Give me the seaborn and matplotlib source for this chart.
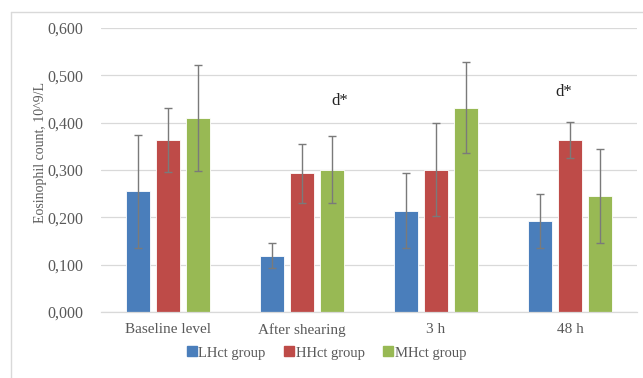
import matplotlib
matplotlib.use("Agg")
import matplotlib.pyplot as plt
from matplotlib.lines import Line2D
import seaborn as sns
import pandas as pd
import numpy as np

# Time points and groups
timepoints = ["Baseline level", "After shearing", "3 h", "48 h"]
groups = ["LHct group", "HHct group", "MHct group"]

# Mean eosinophil counts (10^9/L) per group at each time point
lhct_mean = [0.255, 0.119, 0.214, 0.192]
hhct_mean = [0.363, 0.293, 0.301, 0.363]
mhct_mean = [0.409, 0.301, 0.432, 0.245]

# Error bar half-widths
lhct_err = [0.120, 0.027, 0.079, 0.057]
hhct_err = [0.067, 0.062, 0.098, 0.038]
mhct_err = [0.112, 0.070, 0.097, 0.100]

# Significance marks above groups
sig_labels = ["", "d*", "", "d*"]

y_ticks = [0.0, 0.1, 0.2, 0.3, 0.4, 0.5, 0.6]
y_tick_labels = ["0,000", "0,100", "0,200", "0,300", "0,400", "0,500", "0,600"]

colors = ["#4A7EBB", "#BE4B48", "#98B954"]
text_color = "#595959"

means = [lhct_mean, hhct_mean, mhct_mean]
errs = [lhct_err, hhct_err, mhct_err]

df = pd.DataFrame({
    "timepoint": np.repeat([timepoints], 3, axis=0).ravel(),
    "group": np.repeat(groups, len(timepoints)),
    "value": np.concatenate(means),
    "err": np.concatenate(errs),
})

sns.set_style("white")
plt.rcParams["font.family"] = ["Liberation Serif", "DejaVu Serif"]

fig = plt.figure(figsize=(6.43, 3.78), dpi=100)
W, H = 643, 378
ax = fig.add_axes([101 / W, 1 - 312 / H, (637 - 101) / W, (312 - 28) / H])

sns.barplot(data=df, x="timepoint", y="value", hue="group", order=timepoints,
            hue_order=groups, palette=colors, width=0.666, gap=0.2,
            errorbar=None, saturation=1, edgecolor="#ffffff", linewidth=0.6,
            legend=False, ax=ax)

# Error bars at the centre of each bar
for gi, g in enumerate(groups):
    container = ax.containers[gi]
    for ti, patch in enumerate(container.patches):
        xc = patch.get_x() + patch.get_width() / 2
        ax.errorbar(xc, means[gi][ti], yerr=errs[gi][ti], fmt="none",
                    ecolor="#7a7a7a", elinewidth=1.0, capsize=3, capthick=1.0,
                    zorder=4)

# Significance labels (placement within each group, in data units)
sig_pos = [None, (0.28, 0.445), None, (-0.05, 0.464)]
for ti, lab in enumerate(sig_labels):
    if lab:
        dx, yy = sig_pos[ti]
        ax.text(ti + dx, yy, lab, ha="center", va="center", fontsize=12,
                color="#222222")

ax.set_xlim(-0.5, 3.5)
ax.set_ylim(0, 0.6)
ax.set_yticks(y_ticks)
ax.set_yticklabels(y_tick_labels)
ax.yaxis.grid(True, color="#d9d9d9", linewidth=0.9)
ax.set_axisbelow(True)
for s in ["top", "right", "left"]:
    ax.spines[s].set_visible(False)
ax.spines["bottom"].set_color("#d9d9d9")
ax.spines["bottom"].set_linewidth(0.9)
ax.tick_params(axis="both", length=0, colors=text_color)
ax.tick_params(axis="y", pad=13, labelsize=11.5)
ax.tick_params(axis="x", pad=8, labelsize=11)
ax.set_xlabel("")
ax.set_ylabel("Eosinophil count, 10^9/L", fontsize=10, color=text_color)
ax.yaxis.set_label_coords(-0.1, 0.56)

# Legend below the axes
handles = [Line2D([0], [0], marker="s", linestyle="none", markersize=6.5,
                  markerfacecolor=c, markeredgecolor=c) for c in colors]
fig.legend(handles, groups, loc="center", bbox_to_anchor=(326 / W, 1 - 353 / H),
           ncol=3, frameon=False, fontsize=10.5, labelcolor=text_color,
           handletextpad=0.05, columnspacing=1.2, handlelength=0.8)

# Chart border
fig.add_artist(Line2D([10.5 / W, 10.5 / W], [0, 1 - 11.5 / H], color="#d9d9d9",
                      linewidth=1.0, transform=fig.transFigure))
fig.add_artist(Line2D([10.5 / W, 1], [1 - 11.5 / H, 1 - 11.5 / H], color="#d9d9d9",
                      linewidth=1.0, transform=fig.transFigure))

fig.savefig("out.png", dpi=100, facecolor="white")
